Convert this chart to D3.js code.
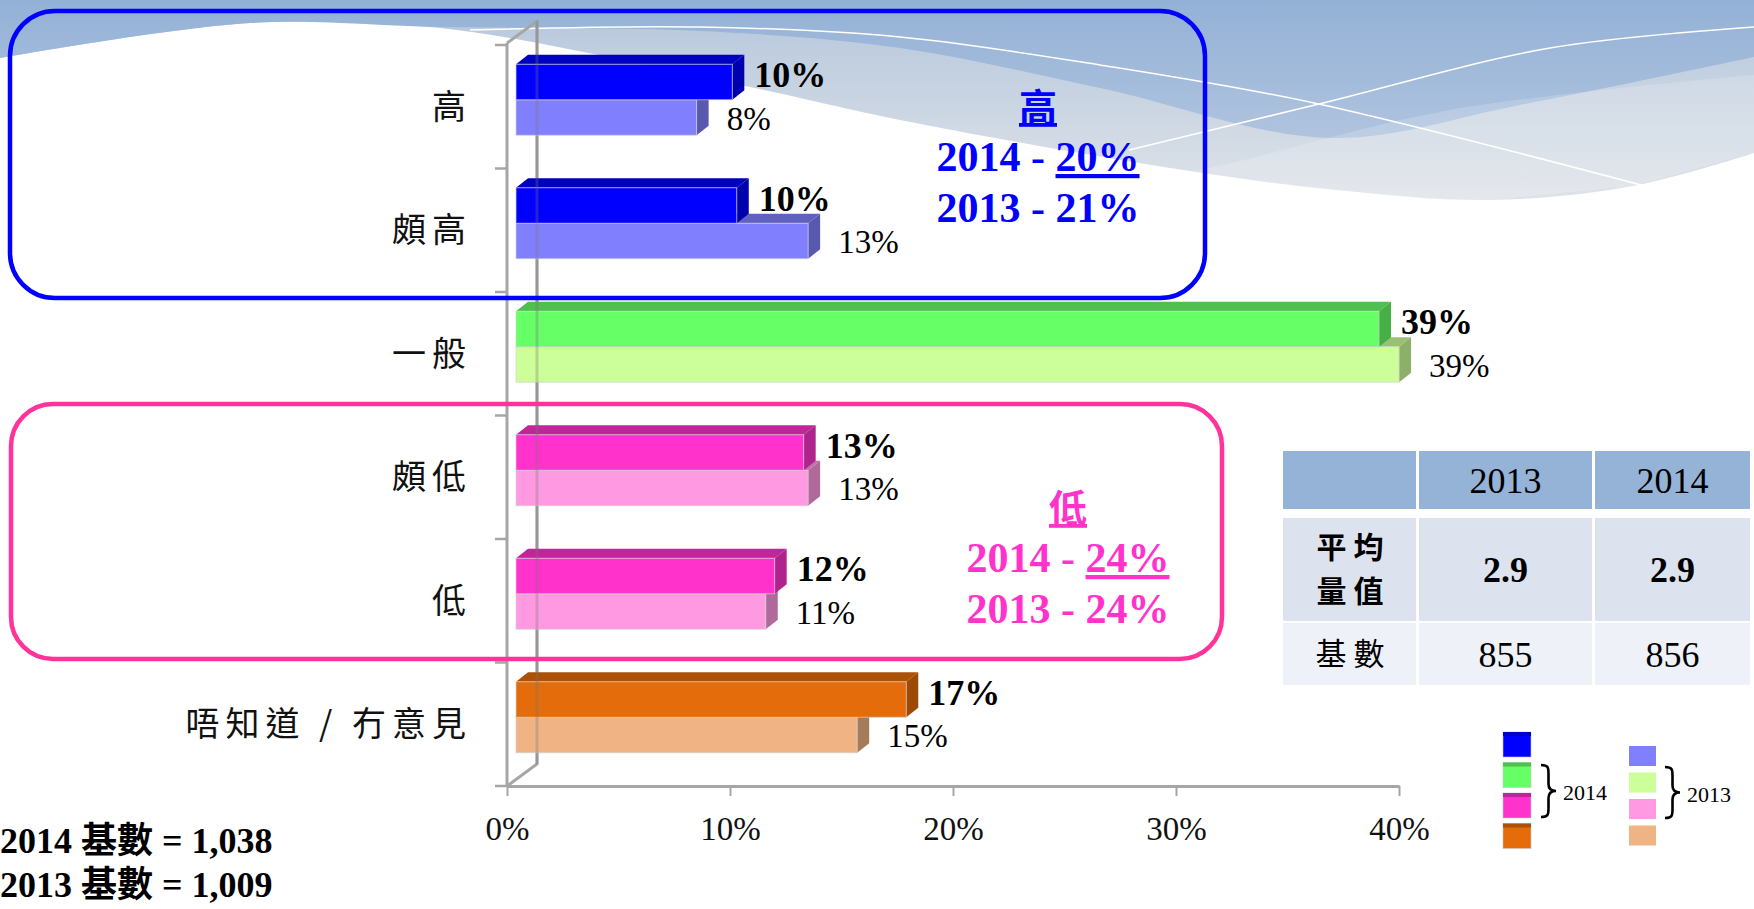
<!DOCTYPE html>
<html>
<head>
    <meta charset="UTF-8">
    <title>評分分佈 2013 / 2014</title>
    <script src="https://d3js.org/d3.v7.min.js"></script>
    <style>
        body { margin: 0; background: #fff; }
        svg text { font-family: "Liberation Serif", "Noto Sans CJK TC", serif; }
        .cjk { font-family: "Noto Sans CJK TC", sans-serif; }
        .axis path, .axis line { stroke: #a6a6a6; }
    </style>
</head>
<body>
    <svg id="chart" width="1754" height="909"></svg>

    <script>
        // 數據
        const categories = ["高", "頗高", "一般", "頗低", "低", "唔知道 / 冇意見"];
        const values2014 = [9.7, 9.9, 38.7, 12.9, 11.6, 17.5];
        const values2013 = [8.1, 13.1, 39.6, 13.1, 11.2, 15.3];
        const labels2014 = ["10%", "10%", "39%", "13%", "12%", "17%"];
        const labels2013 = ["8%", "13%", "39%", "13%", "11%", "15%"];
        const xTicks = [0, 10, 20, 30, 40];

        const highSummary = ["高", "20%", "21%"];
        const lowSummary = ["低", "24%", "24%"];

        const tableHeader = ["", "2013", "2014"];
        const tableMean = ["平均量值", "2.9", "2.9"];
        const tableBase = ["基數", "855", "856"];
        const baseNotes = ["2014 基數 = 1,038", "2013 基數 = 1,009"];
        const legendYears = ["2014", "2013"];

        // 顏色
        const colors2014 = ["#0000ff", "#0000ff", "#66ff66", "#ff33cc", "#ff33cc", "#e46c0a"];
        const colors2013 = ["#8080ff", "#8080ff", "#ccff99", "#ff99e1", "#ff99e1", "#f0b383"];

        const svg = d3.select("#chart");

        // ---- 背景波浪 ----
        const defs = svg.append("defs");
        const g1 = defs.append("linearGradient").attr("id", "lightWave")
            .attr("gradientUnits", "userSpaceOnUse").attr("x1", 0).attr("y1", 0).attr("x2", 0).attr("y2", 200);
        g1.append("stop").attr("offset", 0).attr("stop-color", "#b4c6dc");
        g1.append("stop").attr("offset", 1).attr("stop-color", "#dfe3e8");
        const g2 = defs.append("linearGradient").attr("id", "blueWave")
            .attr("gradientUnits", "userSpaceOnUse").attr("x1", 0).attr("y1", 0).attr("x2", 0).attr("y2", 150);
        g2.append("stop").attr("offset", 0).attr("stop-color", "#93b1d6");
        g2.append("stop").attr("offset", 1).attr("stop-color", "#b2c5df");

        const curve = d3.line().curve(d3.curveCatmullRom);
        const lowerEdge = [[0, 58], [250, 23], [440, 28], [740, 85], [900, 120], [1170, 168],
            [1336, 190], [1490, 200], [1633, 186], [1754, 153]];
        const blueEdge = [[0, 58], [250, 23], [440, 27], [700, 31], [900, 48], [1100, 88],
            [1330, 138], [1520, 105], [1754, 57]];

        svg.append("path")
            .attr("d", curve(lowerEdge) + "L1754,0L0,0Z")
            .attr("fill", "url(#lightWave)");
        svg.append("path")
            .attr("d", curve(blueEdge) + "L1754,0L0,0Z")
            .attr("fill", "url(#blueWave)");
        svg.append("path")
            .attr("d", curve([[1000, 205], [1200, 170], [1450, 110], [1754, 75]]) + "L1754,153L1633,186L1490,200Z")
            .attr("fill", "#ffffff").attr("opacity", 0.18);
        svg.append("path")
            .attr("d", curve([[470, 30], [700, 27], [900, 37], [1100, 65], [1314, 103], [1641, 185]]))
            .attr("fill", "none").attr("stroke", "#fff").attr("stroke-width", 1.5);
        svg.append("path")
            .attr("d", curve([[1129, 150], [1319, 104], [1550, 48], [1754, 27]]))
            .attr("fill", "none").attr("stroke", "#fff").attr("stroke-width", 1.5);

        // ---- 比例尺 ----
        const x = d3.scaleLinear().domain([0, 40]).range([507, 1399]);
        const y = d3.scaleBand().domain(categories).range([45, 786]);

        const wallDx = 30, wallDy = -22;   // 背牆深度
        const barFx = 9, barFy = -7;       // 柱前面偏移
        const barDx = 12, barDy = -9.5;    // 柱厚度
        const barH = 35.5;

        const plot = svg.append("g");
        const x0 = x(0), yTop = y.range()[0], yBot = y.range()[1];

        // 背牆線
        const wall = plot.append("g").attr("stroke", "#a6a6a6").attr("stroke-width", 3).attr("fill", "none");
        wall.append("path").attr("d", `M${x0},${yTop - 2}L${x0 + wallDx},${yTop - 2 + wallDy}L${x0 + wallDx},${yBot + wallDy}L${x0},${yBot}`);
        wall.append("line").attr("x1", x0).attr("x2", x0).attr("y1", yTop - 2).attr("y2", yBot);

        // 類別分隔刻度
        plot.append("g").selectAll("line")
            .data(categories.map(c => y(c)).concat([yBot]))
            .join("line")
            .attr("x1", x0 - 12).attr("x2", x0)
            .attr("y1", d => d).attr("y2", d => d)
            .attr("stroke", "#a6a6a6").attr("stroke-width", 2.5);

        // X 軸
        const xAxis = plot.append("g")
            .attr("class", "axis")
            .attr("transform", `translate(0,${yBot})`)
            .call(d3.axisBottom(x).tickValues(xTicks).tickFormat(d => d + "%")
                .tickSize(10).tickSizeOuter(0).tickPadding(21));
        xAxis.select(".domain").attr("stroke-width", 3);
        xAxis.selectAll(".tick line").attr("stroke-width", 2);
        xAxis.selectAll("text").attr("font-size", 33).attr("fill", "#111")
            .style("font-family", "'Liberation Serif', serif");

        // 類別標籤
        plot.append("g").selectAll("text")
            .data(categories)
            .join("text")
            .attr("class", "cjk")
            .attr("x", 472)
            .attr("y", d => y(d) + y.bandwidth() / 2)
            .attr("dy", "0.36em")
            .attr("text-anchor", "end")
            .attr("font-size", 34)
            .attr("letter-spacing", 6)
            .attr("fill", "#111")
            .text(d => d);

        // 3D 柱
        function drawBar(g, v, yT, color) {
            const bx0 = x(0) + barFx, bx1 = x(v) + barFx, yB = yT + barH;
            const c = d3.color(color);
            g.append("path")
                .attr("d", `M${bx0},${yT}L${bx0 + barDx},${yT + barDy}L${bx1 + barDx},${yT + barDy}L${bx1},${yT}Z`)
                .attr("fill", c.darker(0.8));
            g.append("path")
                .attr("d", `M${bx1},${yT}L${bx1 + barDx},${yT + barDy}L${bx1 + barDx},${yB + barDy}L${bx1},${yB}Z`)
                .attr("fill", c.darker(1.05));
            g.append("rect")
                .attr("x", bx0).attr("y", yT)
                .attr("width", bx1 - bx0).attr("height", barH)
                .attr("fill", color)
                .attr("stroke", "rgba(210,210,210,0.7)").attr("stroke-width", 1);
        }

        const bars = plot.append("g");
        categories.forEach((c, i) => {
            const mid = y(c) + y.bandwidth() / 2 + barFy;
            const g = bars.append("g");
            drawBar(g, values2013[i], mid, colors2013[i]);
            drawBar(g, values2014[i], mid - barH, colors2014[i]);
        });

        // 背牆線透出柱體
        plot.append("line")
            .attr("x1", x0 + wallDx).attr("x2", x0 + wallDx)
            .attr("y1", yTop - 2 + wallDy).attr("y2", yBot + wallDy)
            .attr("stroke", "#777").attr("stroke-width", 3).attr("opacity", 0.3);

        // 數值標籤
        plot.append("g").selectAll("text")
            .data(categories)
            .join("text")
            .attr("x", (d, i) => x(values2014[i]) + barFx + barDx + 10)
            .attr("y", d => y(d) + y.bandwidth() / 2 + barFy - barH / 2 + 5)
            .attr("font-size", 36)
            .attr("font-weight", "bold")
            .attr("fill", "#000")
            .text((d, i) => labels2014[i]);

        plot.append("g").selectAll("text")
            .data(categories)
            .join("text")
            .attr("x", (d, i) => x(values2013[i]) + barFx + barDx + 18)
            .attr("y", d => y(d) + y.bandwidth() / 2 + barFy + barH / 2 + 12)
            .attr("font-size", 33)
            .attr("fill", "#000")
            .text((d, i) => labels2013[i]);

        // ---- 框及摘要 ----
        svg.append("rect")
            .attr("x", 10).attr("y", 11).attr("width", 1195).attr("height", 287)
            .attr("rx", 45).attr("fill", "none")
            .attr("stroke", "#0000ff").attr("stroke-width", 4.5);
        svg.append("rect")
            .attr("x", 11).attr("y", 404).attr("width", 1211).attr("height", 255)
            .attr("rx", 42).attr("fill", "none")
            .attr("stroke", "#ff3399").attr("stroke-width", 4.5);

        function summary(vals, cx, yTitle, color) {
            const g = svg.append("g").attr("fill", color).attr("text-anchor", "middle").attr("font-weight", "bold");
            g.append("text").attr("class", "cjk")
                .attr("x", cx).attr("y", yTitle).attr("font-size", 38)
                .style("text-decoration", "underline")
                .text(vals[0]);
            const t1 = g.append("text").attr("x", cx).attr("y", yTitle + 50).attr("font-size", 42);
            t1.append("tspan").text(legendYears[0] + " - ");
            t1.append("tspan").style("text-decoration", "underline").text(vals[1]);
            g.append("text").attr("x", cx).attr("y", yTitle + 101).attr("font-size", 42)
                .text(legendYears[1] + " - " + vals[2]);
        }
        summary(highSummary, 1038, 121, "#0000ff");
        summary(lowSummary, 1068, 522, "#ff33cc");

        // ---- 表格 ----
        const colX = [1283, 1419, 1595], colW = [133, 173, 155];
        const rowY = [451, 518, 623], rowH = [58, 103, 62];
        const rowFill = ["#95b3d7", "#dce3ef", "#eef1f8"];
        const rows = [tableHeader, tableMean, tableBase];
        const table = svg.append("g");
        rows.forEach((row, r) => {
            row.forEach((cell, c) => {
                table.append("rect")
                    .attr("x", colX[c]).attr("y", rowY[r])
                    .attr("width", colW[c]).attr("height", rowH[r])
                    .attr("fill", rowFill[r]);
                const cx = colX[c] + colW[c] / 2, cy = rowY[r] + rowH[r] / 2;
                if (r === 1 && c === 0) {
                    [cell.slice(0, 2), cell.slice(2)].forEach((part, k) => {
                        table.append("text").attr("class", "cjk")
                            .attr("x", cx + 4).attr("y", cy - 22 + k * 44).attr("dy", "0.36em")
                            .attr("text-anchor", "middle").attr("font-size", 30)
                            .attr("font-weight", "bold").attr("letter-spacing", 7)
                            .text(part);
                    });
                } else {
                    table.append("text")
                        .attr("class", c === 0 ? "cjk" : null)
                        .attr("x", c === 0 ? cx + 4 : cx).attr("y", cy).attr("dy", "0.35em")
                        .attr("text-anchor", "middle")
                        .attr("font-size", c === 0 ? 31 : 36)
                        .attr("letter-spacing", c === 0 ? 7 : 0)
                        .attr("font-weight", r === 1 ? "bold" : "normal")
                        .attr("fill", "#000")
                        .text(cell);
                }
            });
        });

        // ---- 圖例 ----
        function bracePath(bx, y0, y1, w) {
            const ym = (y0 + y1) / 2, h = w / 2;
            return `M${bx},${y0}C${bx + h},${y0} ${bx + h},${y0 + 3} ${bx + h},${y0 + 9}` +
                `L${bx + h},${ym - 7}C${bx + h},${ym - 2} ${bx + w * 0.7},${ym} ${bx + w},${ym}` +
                `C${bx + w * 0.7},${ym} ${bx + h},${ym + 2} ${bx + h},${ym + 7}` +
                `L${bx + h},${y1 - 9}C${bx + h},${y1 - 3} ${bx + h},${y1} ${bx},${y1}`;
        }
        const legend2014 = Array.from(new Set(colors2014));
        const legend2013 = Array.from(new Set(colors2013));
        const leg = svg.append("g");
        legend2014.forEach((c, i) => {
            leg.append("rect").attr("x", 1503).attr("y", 732 + i * 30.5).attr("width", 28).attr("height", 25)
                .attr("fill", c).attr("stroke", "rgba(200,200,200,0.6)");
            leg.append("rect").attr("x", 1503).attr("y", 732 + i * 30.5).attr("width", 28).attr("height", 4)
                .attr("fill", d3.color(c).darker(0.8));
        });
        legend2013.forEach((c, i) => {
            leg.append("rect").attr("x", 1629).attr("y", 746 + i * 26.5).attr("width", 27).attr("height", 20)
                .attr("fill", c);
        });
        [[1541, 765, 817, 1563, 800], [1665, 767, 818, 1687, 802]].forEach((p, i) => {
            leg.append("path").attr("d", bracePath(p[0], p[1], p[2], 15))
                .attr("fill", "none").attr("stroke", "#000").attr("stroke-width", 2.6);
            leg.append("text").attr("x", p[3]).attr("y", p[4]).attr("font-size", 22).text(legendYears[i]);
        });

        // ---- 基數註 ----
        svg.append("g").selectAll("text")
            .data(baseNotes)
            .join("text")
            .attr("x", 0)
            .attr("y", (d, i) => 853 + i * 44)
            .attr("font-size", 36)
            .attr("font-weight", "bold")
            .text(d => d);
    </script>
</body>
</html>
